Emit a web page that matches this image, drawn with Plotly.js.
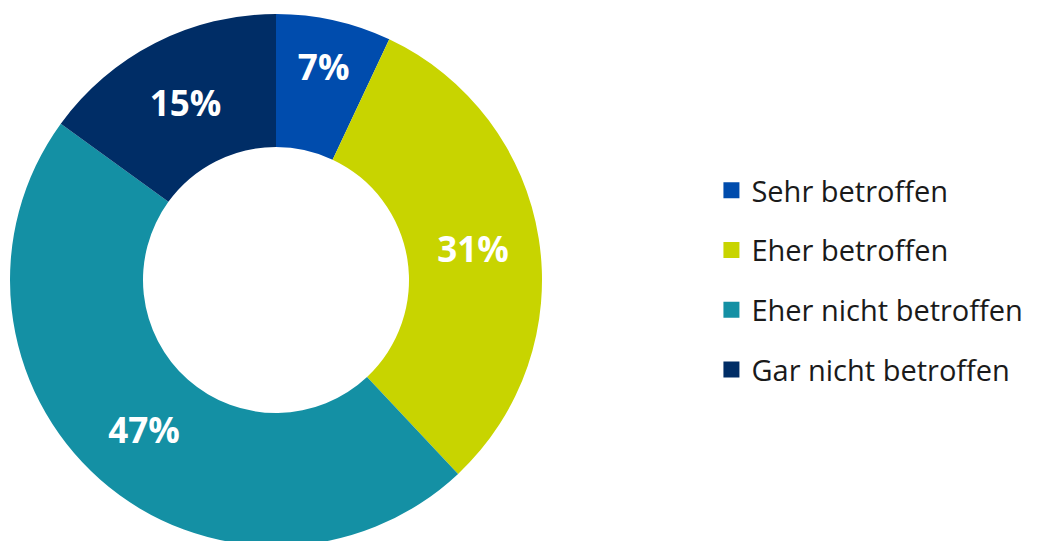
<!DOCTYPE html>
<html>
<head>
<meta charset="utf-8">
<script src="https://cdn.plot.ly/plotly-3.0.1.min.js"></script>
<style>
html,body{margin:0;padding:0;overflow:hidden;background:#fff;}
#chart{width:1040px;height:546px;}
</style>
</head>
<body>
<div id="chart"></div>
<script>
const categories = ["Sehr betroffen", "Eher betroffen", "Eher nicht betroffen", "Gar nicht betroffen"];
const values = [7, 31, 47, 15];
const colors = ["#004CAD", "#C8D400", "#1490A4", "#002D66"];

const pie = {
  type: "pie",
  labels: categories,
  values: values,
  hole: 0.5,
  sort: false,
  direction: "clockwise",
  rotation: 0,
  marker: {colors: colors, line: {width: 0}},
  texttemplate: "%{value}%",
  textposition: "inside",
  insidetextorientation: "horizontal",
  textfont: {family: "'Open Sans', sans-serif", size: 35, color: "#ffffff", weight: "bold"},
  hoverinfo: "label+percent",
  showlegend: false,
  domain: {x: [0, 532/1030], y: [0, 1]}
};

const legendTraces = categories.map((c, i) => ({
  type: "scatter",
  mode: "markers",
  x: [null], y: [null],
  name: c,
  legendgroup: "g" + i,
  marker: {symbol: "square", size: 16, color: colors[i]},
  showlegend: true,
  hoverinfo: "skip"
}));

const layout = {
  width: 1040,
  height: 546,
  margin: {l: 10, r: 0, t: 14, b: 0, pad: 0},
  paper_bgcolor: "#ffffff",
  plot_bgcolor: "#ffffff",
  xaxis: {visible: false, domain: [0.99, 1]},
  yaxis: {visible: false},
  showlegend: true,
  legend: {
    x: 0.681, xanchor: "left",
    y: 0.5, yanchor: "middle",
    font: {family: "'Open Sans', sans-serif", size: 29, color: "#1a1a1a"},
    tracegroupgap: 19,
    traceorder: "grouped",
    itemwidth: 30,
    bgcolor: "rgba(0,0,0,0)"
  }
};

Plotly.newPlot("chart", [pie].concat(legendTraces), layout, {displayModeBar: false, staticPlot: true});
</script>
</body>
</html>
